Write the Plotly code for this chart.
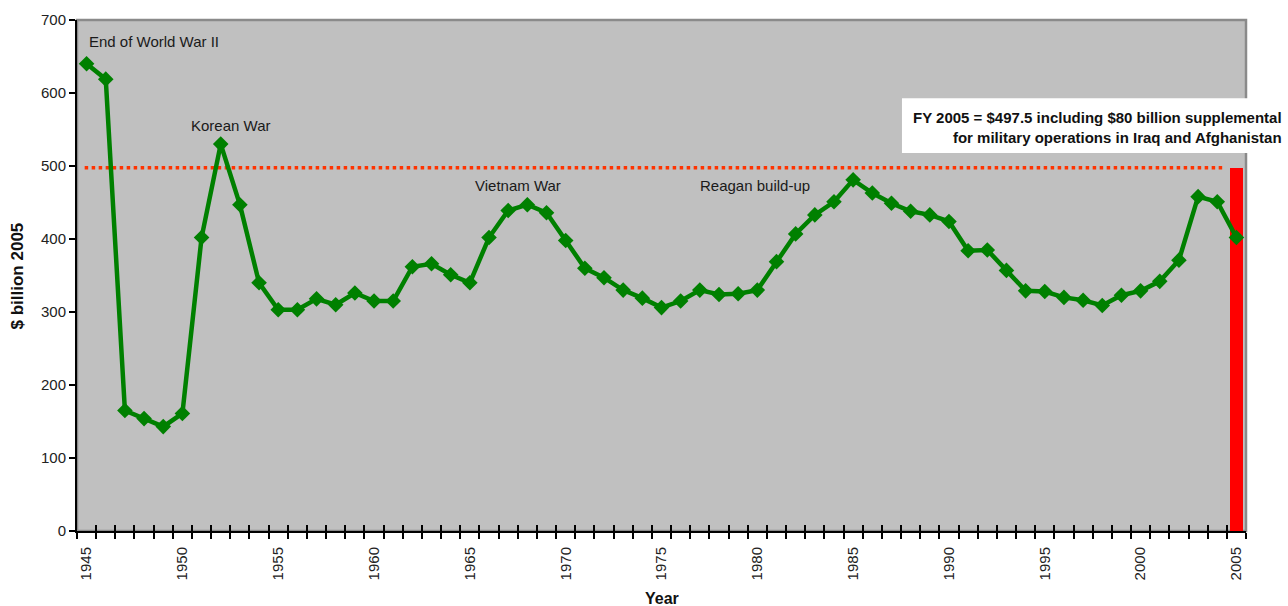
import plotly.graph_objects as go

# US military spending, constant 2005 dollars ($ billion)
years = list(range(1945, 2006))
spending = [640, 619, 165, 154, 143, 161, 402, 530, 447, 340,
            303, 303, 318, 310, 326, 315, 315, 362, 366, 351,
            340, 402, 439, 447, 436, 398, 360, 347, 330, 319,
            306, 315, 330, 324, 325, 330, 369, 407, 433, 451,
            481, 463, 449, 438, 433, 424, 384, 385, 357, 329,
            328, 320, 316, 309, 323, 329, 342, 371, 458, 451,
            402]

fy2005_total = 497.5
label_years = list(range(1945, 2010, 5))
y_ticks = list(range(0, 800, 100))

events = ["End of World War II", "Korean War", "Vietnam War", "Reagan build-up"]
event_x = [1948.5, 1952.5, 1967.5, 1979.9]
event_y = [670, 556, 473, 473]

FONT = "Arial, Liberation Sans, sans-serif"
boundaries = [y - 0.5 for y in years] + [years[-1] + 0.5]

fig = go.Figure()

# FY2005 total including supplemental
fig.add_trace(go.Bar(
    x=[years[-1]], y=[fy2005_total], width=0.7,
    marker=dict(color="#FF0000", line=dict(width=0)),
    showlegend=False, hoverinfo="skip"))

# reference level of the FY2005 total
fig.add_trace(go.Scatter(
    x=[years[0] - 0.1, years[-1] - 0.7], y=[fy2005_total, fy2005_total],
    mode="lines", line=dict(color="#FF3300", width=3.5, dash="dot"),
    showlegend=False, hoverinfo="skip"))

fig.add_trace(go.Scatter(
    x=years, y=spending, mode="lines+markers",
    line=dict(color="#008000", width=4.5),
    marker=dict(symbol="diamond", size=12, color="#008000"),
    showlegend=False))

# carrier trace for the inner tick marks axis
fig.add_trace(go.Scatter(x=[years[0]], y=[0], xaxis="x2", mode="markers",
                         marker=dict(opacity=0), showlegend=False, hoverinfo="skip"))

for txt, ex, ey in zip(events, event_x, event_y):
    fig.add_annotation(x=ex, y=ey, text=txt, showarrow=False,
                       font=dict(family=FONT, size=15, color="#1a1a1a"))

fig.add_annotation(
    xref="paper", yref="paper", x=1.0325, y=0.7906, xanchor="right", yanchor="middle",
    text="FY 2005 = $497.5 including $80 billion supplemental<br>for military operations in Iraq and Afghanistan",
    align="right", showarrow=False,
    font=dict(family=FONT, size=15, color="#111111", weight="bold"))

# axis titles
fig.add_annotation(
    xref="paper", yref="paper", x=0.5, y=-0.133, xanchor="center", yanchor="middle",
    text="<b>Year</b>", showarrow=False,
    font=dict(family=FONT, size=16, color="#111111"))
fig.add_annotation(
    xref="paper", yref="paper", x=-0.0505, y=0.5, xanchor="center", yanchor="middle",
    text="<b>$ billion 2005</b>", textangle=-90, showarrow=False,
    font=dict(family=FONT, size=17, color="#111111"))

fig.update_layout(
    width=1288, height=606,
    margin=dict(l=77, r=42, t=20, b=75),
    paper_bgcolor="white", plot_bgcolor="#C0C0C0",
    bargap=0,
    shapes=[
        dict(type="rect", xref="paper", yref="paper", x0=0, y0=0, x1=1, y1=1,
             line=dict(color="#8A8A8A", width=2.5), layer="below"),
        dict(type="rect", xref="paper", yref="paper", x0=0.7057, y0=0.7397, x1=1.2, y1=0.847,
             line=dict(width=0), fillcolor="white", layer="above"),
    ],
    xaxis=dict(
        range=[1944.5, 2005.5], tickmode="array", tickvals=label_years,
        ticktext=[str(y) for y in label_years], tickangle=-90, ticks="",
        ticklabelstandoff=8, automargin=False,
        tickfont=dict(family=FONT, size=15, color="#222222"),
        showgrid=False, zeroline=False, showline=True, linecolor="black", linewidth=2,
        minor=dict(tickmode="array", tickvals=boundaries, ticks="outside",
                   ticklen=6, tickwidth=1.5, tickcolor="black", showgrid=False),
    ),
    xaxis2=dict(
        overlaying="x", matches="x", anchor="y", side="bottom", automargin=False,
        tickmode="array", tickvals=boundaries, ticks="inside", ticklen=6,
        tickwidth=1.5, tickcolor="black", showticklabels=False,
        showgrid=False, zeroline=False, showline=False),
    yaxis=dict(
        range=[0, 700], tickmode="array", tickvals=y_ticks, ticks="outside",
        ticklen=6, tickwidth=1.5, tickcolor="black", automargin=False,
        tickfont=dict(family=FONT, size=15, color="#222222"),
        showgrid=False, zeroline=False, showline=True, linecolor="black", linewidth=2,
    ),
)

fig.write_html("out.html")
